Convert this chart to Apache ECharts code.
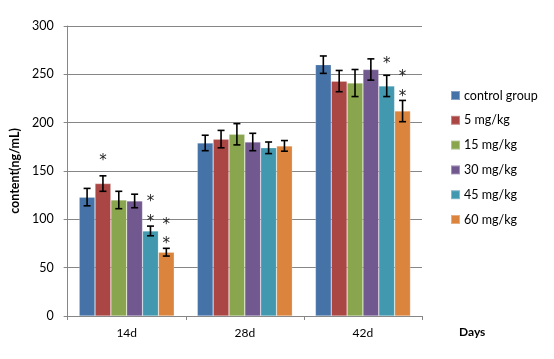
<!DOCTYPE html>
<html>
<head>
<meta charset="utf-8">
<script src="https://cdn.jsdelivr.net/npm/echarts@6/dist/echarts.min.js"></script>
<style>
  html, body { margin: 0; padding: 0; background: #fff; }
  #chart { width: 554px; height: 359px; }
</style>
</head>
<body>
<div id="chart"></div>
<script>
// categories + groups
const days = ["14d", "28d", "42d"];
const groups = ["control group", "5 mg/kg", "15 mg/kg", "30 mg/kg", "45 mg/kg", "60 mg/kg"];
const colors = ["#4572A7", "#AA4643", "#89A54E", "#71588F", "#4198AF", "#DB843D"];

// mean values per group (14d, 28d, 42d)
const controlMean = [123, 179, 260];
const mg5Mean = [137, 183, 243];
const mg15Mean = [120, 188, 241];
const mg30Mean = [119, 180, 255];
const mg45Mean = [88, 174, 238];
const mg60Mean = [66, 176, 212];

// error (+/-)
const controlErr = [9, 8, 9];
const mg5Err = [8, 9, 11];
const mg15Err = [9, 11, 14];
const mg30Err = [7, 9, 11];
const mg45Err = [5, 6, 11];
const mg60Err = [4, 5.5, 11];

// significance marks: [day index, group index, y value]
const stars = [
  [0, 1, 163], [0, 4, 121], [0, 4, 100], [0, 5, 97], [0, 5, 77],
  [2, 4, 264], [2, 5, 250], [2, 5, 230],
];

const yTicks = [0, 50, 100, 150, 200, 250, 300];

const means = [controlMean, mg5Mean, mg15Mean, mg30Mean, mg45Mean, mg60Mean];
const errs = [controlErr, mg5Err, mg15Err, mg30Err, mg45Err, mg60Err];

const CAT_GAP = 0.195;
const font = "Lato, 'Open Sans', sans-serif";

// x centre of bar g inside category
function barX(api, dayIdx, g) {
  const band = api.size([1, 0])[0];
  const bw = band * (1 - CAT_GAP) / groups.length;
  const c = api.coord([dayIdx, 0])[0];
  return { x: c - (bw * groups.length) / 2 + bw * (g + 0.5), bw };
}

const errData = [];
groups.forEach((_, g) => {
  days.forEach((_, d) => {
    errData.push([d, g, means[g][d] - errs[g][d], means[g][d] + errs[g][d]]);
  });
});

const series = groups.map((name, g) => ({
  name,
  type: "bar",
  data: means[g],
  barGap: "0%",
  barCategoryGap: (CAT_GAP * 100) + "%",
  itemStyle: { color: colors[g], borderColor: "rgba(255,255,255,0.35)", borderWidth: 0.6 },
  emphasis: { disabled: true },
}));

series.push({
  type: "custom",
  name: "err",
  data: errData,
  z: 10,
  renderItem(params, api) {
    const d = api.value(0), g = api.value(1);
    const { x } = barX(api, d, g);
    const lo = api.coord([d, api.value(2)])[1];
    const hi = api.coord([d, api.value(3)])[1];
    const cap = 3.5;
    const style = { stroke: "#000", lineWidth: 1.6 };
    return {
      type: "group",
      children: [
        { type: "line", shape: { x1: x, y1: lo, x2: x, y2: hi }, style },
        { type: "line", shape: { x1: x - cap, y1: lo, x2: x + cap, y2: lo }, style },
        { type: "line", shape: { x1: x - cap, y1: hi, x2: x + cap, y2: hi }, style },
      ],
    };
  },
});

series.push({
  type: "custom",
  name: "stars",
  data: stars,
  z: 11,
  renderItem(params, api) {
    const d = api.value(0), g = api.value(1);
    const { x } = barX(api, d, g);
    const y = api.coord([d, api.value(2)])[1];
    return {
      type: "text",
      style: {
        text: "*", x, y: y + 3, align: "center", verticalAlign: "middle",
        fontSize: 15, fontFamily: "'DejaVu Sans', sans-serif", fill: "#222",
      },
    };
  },
});

const chart = echarts.init(document.getElementById("chart"));
chart.setOption({
  animation: false,
  textStyle: { fontFamily: font },
  grid: { left: 64, right: 132, top: 26, bottom: 43 },
  legend: {
    data: groups,
    orient: "vertical",
    left: 445,
    top: 84,
    itemWidth: 9,
    itemHeight: 9,
    itemGap: 11.8,
    icon: "rect",
    textStyle: { fontSize: 12.5, color: "#000", fontFamily: font, padding: [0, 0, 0, -1] },
  },
  xAxis: {
    type: "category",
    data: days,
    name: "Days",
    nameLocation: "end",
    nameGap: 37,
    nameTextStyle: { fontWeight: "bold", fontSize: 12, color: "#000", verticalAlign: "top", padding: [10, 0, 0, 0] },
    axisLine: { lineStyle: { color: "#868686" } },
    axisTick: { show: true, length: 4, lineStyle: { color: "#868686" } },
    axisLabel: { color: "#000", fontSize: 12, margin: 11 },
  },
  yAxis: {
    type: "value",
    min: yTicks[0],
    max: yTicks[yTicks.length - 1],
    interval: 50,
    name: "content(ng/mL)",
    nameLocation: "middle",
    nameGap: 41,
    nameTextStyle: { fontWeight: "bold", fontSize: 12.5, color: "#000" },
    axisLine: { show: true, lineStyle: { color: "#868686" } },
    axisTick: { show: true, length: 4, lineStyle: { color: "#868686" } },
    axisLabel: { color: "#000", fontSize: 12.5, margin: 14 },
    splitLine: { lineStyle: { color: "#868686", width: 1 } },
  },
  series,
});
</script>
</body>
</html>
